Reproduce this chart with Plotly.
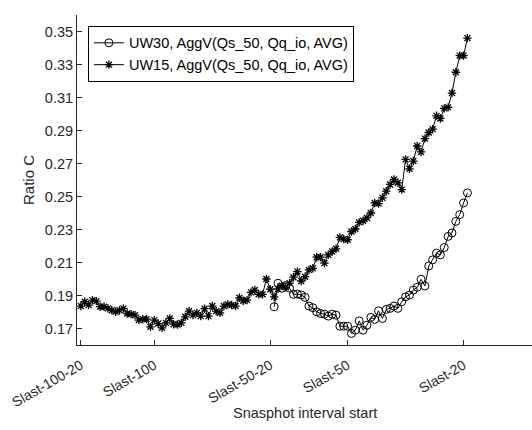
import plotly.graph_objects as go

# x positions relative to Slast
uw15_x = list(range(-119, -18))
uw15_y = [
    0.1836, 0.1862, 0.1842, 0.1872, 0.1866, 0.1832, 0.1832, 0.1822, 0.1811, 0.1801,
    0.1811, 0.1822, 0.1791, 0.1787, 0.1781, 0.1751, 0.1757, 0.1757, 0.1710, 0.1751,
    0.1730, 0.1704, 0.1734, 0.1761, 0.1726, 0.1724, 0.1734, 0.1771, 0.1805, 0.1781,
    0.1795, 0.1775, 0.1820, 0.1775, 0.1836, 0.1805, 0.1795, 0.1836, 0.1846, 0.1842,
    0.1836, 0.1886, 0.1868, 0.1872, 0.1919, 0.1933, 0.1907, 0.1907, 0.2000, 0.1938,
    0.1892, 0.1940, 0.1960, 0.1950, 0.1975, 0.2011, 0.2045, 0.1988, 0.2014, 0.2055,
    0.2065, 0.2132, 0.2132, 0.2096, 0.2146, 0.2167, 0.2183, 0.2252, 0.2242, 0.2238,
    0.2288, 0.2303, 0.2343, 0.2353, 0.2370, 0.2400, 0.2461, 0.2457, 0.2492, 0.2532,
    0.2573, 0.2603, 0.2583, 0.2542, 0.2725, 0.2668, 0.2715, 0.2806, 0.2770, 0.2851,
    0.2888, 0.2908, 0.2989, 0.2973, 0.3034, 0.3040, 0.3127, 0.3253, 0.3354, 0.3354,
    0.3460,
]

uw30_x = list(range(-69, -18))
uw30_y = [
    0.1832, 0.1974, 0.1944, 0.1960, 0.1944, 0.1907, 0.1909, 0.1903, 0.1889, 0.1836,
    0.1826, 0.1801, 0.1791, 0.1787, 0.1775, 0.1787, 0.1781, 0.1714, 0.1714, 0.1714,
    0.1670, 0.1690, 0.1746, 0.1690, 0.1720, 0.1767, 0.1755, 0.1807, 0.1761, 0.1816,
    0.1822, 0.1836, 0.1822, 0.1862, 0.1892, 0.1903, 0.1933, 0.1950, 0.1998, 0.1958,
    0.2079, 0.2116, 0.2157, 0.2146, 0.2191, 0.2258, 0.2279, 0.2349, 0.2390, 0.2461,
    0.2522,
]

xtick_vals = [-119, -100, -70, -50, -20]
xtick_text = ["Slast-100-20", "Slast-100", "Slast-50-20", "Slast-50", "Slast-20"]
ytick_vals = [0.17, 0.19, 0.21, 0.23, 0.25, 0.27, 0.29, 0.31, 0.33, 0.35]

FONT = "Liberation Sans, Arial, Helvetica, sans-serif"
AX = "#262626"

fig = go.Figure()
fig.add_trace(go.Scatter(
    x=uw30_x, y=uw30_y, mode="lines+markers",
    name="UW30, AggV(Qs_50, Qq_io, AVG)",
    line=dict(color="black", width=1),
    marker=dict(symbol="circle-open", size=8, color="black", line=dict(width=1, color="black")),
))
fig.add_trace(go.Scatter(
    x=uw15_x, y=uw15_y, mode="lines+markers",
    name="UW15, AggV(Qs_50, Qq_io, AVG)",
    line=dict(color="black", width=1),
    marker=dict(symbol="asterisk-open", size=7, color="black", line=dict(width=1.3, color="black")),
))

fig.update_layout(
    width=532, height=430,
    margin=dict(l=77, r=0, t=15, b=85),
    paper_bgcolor="white", plot_bgcolor="white",
    font=dict(family=FONT, size=14, color=AX),
    showlegend=True,
    legend=dict(
        x=0.024, y=0.967, xanchor="left", yanchor="top",
        bordercolor="black", borderwidth=1, bgcolor="white",
        font=dict(family=FONT, size=14.5, color="black"),
        itemwidth=30, tracegroupgap=0,
    ),
    xaxis=dict(
        range=[-120, -2.3], tickmode="array", tickvals=xtick_vals, ticktext=xtick_text,
        tickangle=-30, ticks="inside", ticklen=5, tickcolor=AX,
        ticklabelstandoff=6,
        showline=True, linecolor=AX, linewidth=1, mirror=False,
        showgrid=False, zeroline=False,
        tickfont=dict(family=FONT, size=14, color=AX),
    ),
    yaxis=dict(
        range=[0.16, 0.36], tickmode="array", tickvals=ytick_vals,
        ticktext=[f"{v:.2f}" for v in ytick_vals],
        ticks="inside", ticklen=5, tickcolor=AX,
        showline=True, linecolor=AX, linewidth=1, mirror=False,
        showgrid=False, zeroline=False,
        tickfont=dict(family=FONT, size=14.5, color=AX),
    ),
    annotations=[
        dict(text="Snasphot interval start", xref="paper", yref="paper",
             x=0.5, y=-0.206, xanchor="center", yanchor="middle", showarrow=False,
             font=dict(family=FONT, size=14.5, color=AX)),
        dict(text="Ratio C", xref="paper", yref="paper",
             x=-0.1077, y=0.5, xanchor="center", yanchor="middle", textangle=-90,
             showarrow=False, font=dict(family=FONT, size=15, color=AX)),
    ],
)

fig.write_html("out.html")
